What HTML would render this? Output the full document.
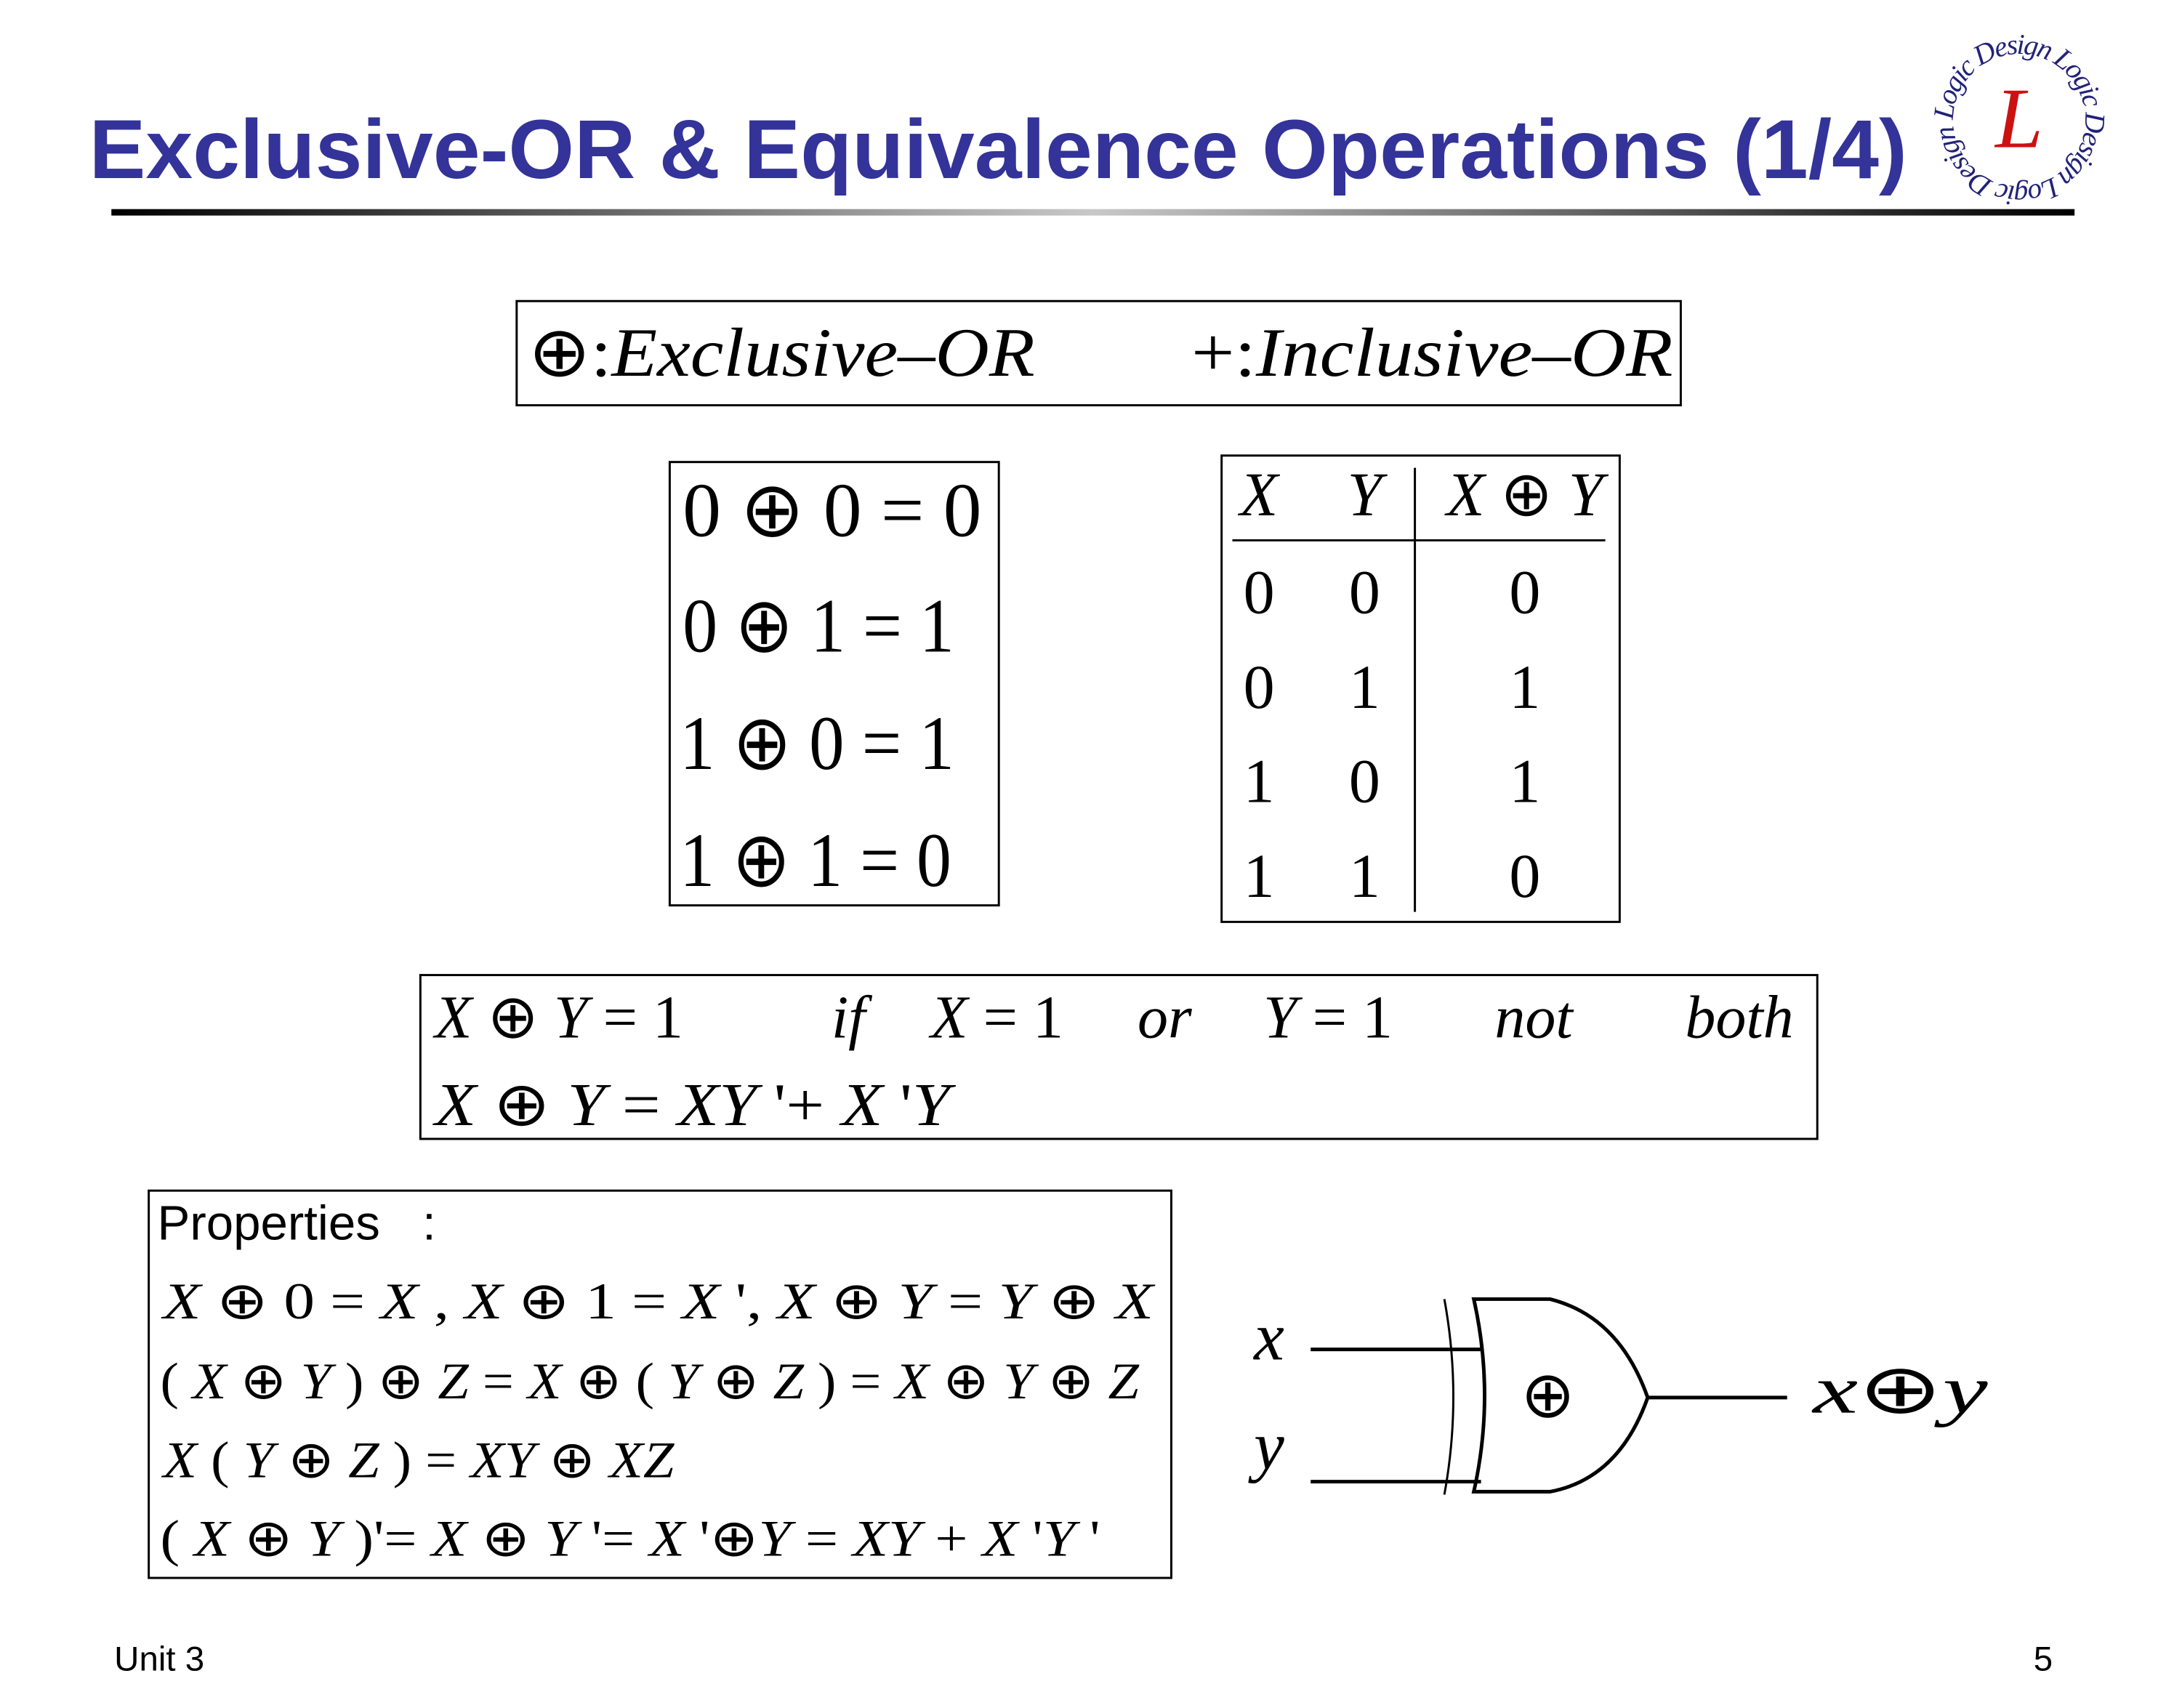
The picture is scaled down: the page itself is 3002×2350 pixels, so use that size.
<!DOCTYPE html>
<html><head><meta charset="utf-8"><style>
html,body{margin:0;padding:0;background:#fff;}
svg{display:block;}
.m{font-family:"Liberation Serif",serif;}
.i{font-style:italic;}
</style></head><body>
<svg width="3002" height="2350" viewBox="0 0 3002 2350" xmlns="http://www.w3.org/2000/svg">
<defs>
<linearGradient id="g" x1="0" x2="1" y1="0" y2="0">
<stop offset="0" stop-color="#000"/><stop offset="0.5" stop-color="#c8c8c8"/><stop offset="1" stop-color="#000"/>
</linearGradient>
<path id="circ" d="M2810,167 m-92,0 a92,92 0 1,1 184,0 a92,92 0 1,1 -184,0"/>
</defs>
<rect width="3002" height="2350" fill="#fff"/>
<g transform="scale(0.98863)">
<!-- title -->
<text x="124" y="248" font-family="Liberation Sans, sans-serif" font-weight="bold" font-size="116" fill="#333399" textLength="2530" lengthAdjust="spacingAndGlyphs">Exclusive-OR &amp; Equivalence Operations (1/4)</text>
<rect x="155" y="291" width="2732" height="9" fill="url(#g)"/>
<!-- logo -->
<text font-family="Liberation Serif, serif" font-style="italic" font-size="40" fill="#22227a"><textPath href="#circ" textLength="570">Logic Design Logic Design Logic Design</textPath></text>
<text x="2810" y="205" text-anchor="middle" font-family="Liberation Serif, serif" font-style="italic" font-size="120" fill="#cc1111">L</text>

<!-- box1 -->
<rect x="719" y="419" width="1620" height="145" fill="none" stroke="#000" stroke-width="3"/>
<text class="m" x="735" y="523" font-size="97" textLength="705" lengthAdjust="spacingAndGlyphs">⊕:<tspan class="i">Exclusive–OR</tspan></text>
<text class="m" x="1658" y="523" font-size="97" textLength="670" lengthAdjust="spacingAndGlyphs">+:<tspan class="i">Inclusive–OR</tspan></text>

<!-- box2 -->
<rect x="932" y="643" width="458" height="617" fill="none" stroke="#000" stroke-width="3"/>
<g class="m" font-size="107">
<text x="950" y="746" textLength="416" lengthAdjust="spacingAndGlyphs">0 ⊕ 0 = 0</text>
<text x="950" y="907" textLength="378" lengthAdjust="spacingAndGlyphs">0 ⊕ 1 = 1</text>
<text x="946" y="1070" textLength="382" lengthAdjust="spacingAndGlyphs">1 ⊕ 0 = 1</text>
<text x="946" y="1233" textLength="378" lengthAdjust="spacingAndGlyphs">1 ⊕ 1 = 0</text>
</g>

<!-- truth table -->
<rect x="1700" y="634" width="554" height="649" fill="none" stroke="#000" stroke-width="3"/>
<line x1="1715" y1="752" x2="2234" y2="752" stroke="#000" stroke-width="3"/>
<line x1="1969" y1="651" x2="1969" y2="1269" stroke="#000" stroke-width="3"/>
<g class="m" font-size="87" text-anchor="middle">
<text x="1752" y="717" class="i">X</text><text x="1899" y="717" class="i">Y</text>
<text x="2122" y="717"><tspan class="i">X</tspan> ⊕ <tspan class="i">Y</tspan></text>
<text x="1752" y="853">0</text><text x="1899" y="853">0</text><text x="2122" y="853">0</text>
<text x="1752" y="985">0</text><text x="1899" y="985">1</text><text x="2122" y="985">1</text>
<text x="1752" y="1116">1</text><text x="1899" y="1116">0</text><text x="2122" y="1116">1</text>
<text x="1752" y="1248">1</text><text x="1899" y="1248">1</text><text x="2122" y="1248">0</text>
</g>

<!-- box3 -->
<rect x="585" y="1357" width="1944" height="228" fill="none" stroke="#000" stroke-width="3"/>
<g class="m" font-size="85">
<text x="605" y="1444"><tspan class="i">X</tspan> ⊕ <tspan class="i">Y</tspan> = 1</text>
<text x="1157" y="1444" class="i">if</text>
<text x="1295" y="1444"><tspan class="i">X</tspan> = 1</text>
<text x="1583" y="1444" class="i">or</text>
<text x="1758" y="1444"><tspan class="i">Y</tspan> = 1</text>
<text x="2080" y="1444" class="i">not</text>
<text x="2345" y="1444" class="i">both</text>
<text x="605" y="1566" textLength="717" lengthAdjust="spacingAndGlyphs"><tspan class="i">X</tspan> ⊕ <tspan class="i">Y</tspan> = <tspan class="i">XY</tspan> '+ <tspan class="i">X</tspan> '<tspan class="i">Y</tspan></text>
</g>

<!-- box4 -->
<rect x="207" y="1657" width="1423" height="539" fill="none" stroke="#000" stroke-width="3"/>
<text x="219" y="1725" font-family="Liberation Sans, sans-serif" font-size="68">Properties <tspan dx="40">:</tspan></text>
<g class="m" font-size="72">
<text x="227" y="1835" textLength="1378" lengthAdjust="spacingAndGlyphs"><tspan class="i">X</tspan> ⊕ 0 = <tspan class="i">X</tspan> ,   <tspan class="i">X</tspan> ⊕ 1 = <tspan class="i">X</tspan> ',   <tspan class="i">X</tspan> ⊕ <tspan class="i">Y</tspan> = <tspan class="i">Y</tspan> ⊕ <tspan class="i">X</tspan></text>
<text x="223" y="1946" textLength="1362" lengthAdjust="spacingAndGlyphs">( <tspan class="i">X</tspan> ⊕ <tspan class="i">Y</tspan> ) ⊕ <tspan class="i">Z</tspan> = <tspan class="i">X</tspan> ⊕ ( <tspan class="i">Y</tspan> ⊕ <tspan class="i">Z</tspan> ) = <tspan class="i">X</tspan> ⊕ <tspan class="i">Y</tspan> ⊕ <tspan class="i">Z</tspan></text>
<text x="227" y="2056" textLength="711" lengthAdjust="spacingAndGlyphs"><tspan class="i">X</tspan> ( <tspan class="i">Y</tspan> ⊕ <tspan class="i">Z</tspan> ) = <tspan class="i">XY</tspan> ⊕ <tspan class="i">XZ</tspan></text>
<text x="223" y="2165" textLength="1308" lengthAdjust="spacingAndGlyphs">( <tspan class="i">X</tspan> ⊕ <tspan class="i">Y</tspan> )'= <tspan class="i">X</tspan> ⊕ <tspan class="i">Y</tspan> '= <tspan class="i">X</tspan> '⊕<tspan class="i">Y</tspan> = <tspan class="i">XY</tspan> + <tspan class="i">X</tspan> '<tspan class="i">Y</tspan> '</text>
</g>

<!-- XOR gate -->
<g transform="translate(23,22)">
<g fill="none" stroke="#000" stroke-width="5">
<line x1="1801" y1="1856" x2="2038" y2="1856"/>
<line x1="1801" y1="2040" x2="2038" y2="2040"/>
<path d="M1987,1786 Q2012,1922 1987,2058" stroke-width="3"/>
<path d="M2028,1786 L2134,1786 Q2230,1810 2270,1923 Q2230,2036 2134,2054 L2028,2054 Q2058,1920 2028,1786 Z"/>
<line x1="2270" y1="1923" x2="2464" y2="1923"/>
</g>
<text class="m" x="2131" y="1950" font-size="90" text-anchor="middle">⊕</text>
<g class="m i" font-size="95">
<text x="1722" y="1870">x</text>
<text x="1722" y="2022">y</text>
<text x="2500" y="1944" textLength="243" lengthAdjust="spacingAndGlyphs">x<tspan font-style="normal">⊕</tspan>y</text>
</g>
</g>

<!-- footer -->
<text x="159" y="2325" font-family="Liberation Sans, sans-serif" font-size="48">Unit 3</text>
<text x="2830" y="2325" font-family="Liberation Sans, sans-serif" font-size="48">5</text>
</g>
</svg>
</body></html>
